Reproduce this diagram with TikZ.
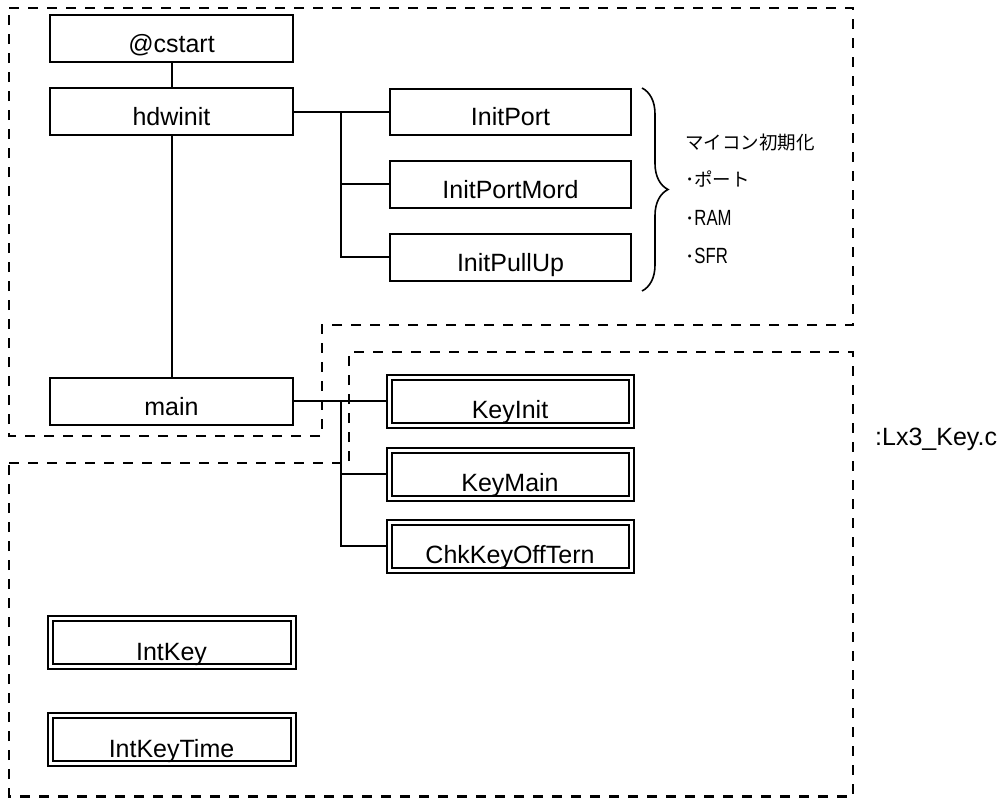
\documentclass[tikz,border=0pt]{standalone}
\usepackage{fontspec}
\setmainfont{Liberation Sans}
\newfontfamily\jpfont{Noto Sans CJK JP}
\newfontfamily\narrowfont[FakeStretch=0.76]{Liberation Sans}
\usetikzlibrary{decorations.pathreplacing}
\begin{document}
\begin{tikzpicture}[x=1pt,y=-1pt,
  fnbox/.style={draw, line width=2pt, minimum width=243pt, minimum height=47pt,
    inner sep=0pt, text height=28pt, text depth=0pt, font=\fontsize{25}{30}\selectfont},
  dblbox/.style={draw, double, double distance=3pt, line width=2pt, minimum width=242pt,
    minimum height=48pt, inner sep=0pt, text height=35pt, text depth=0pt,
    font=\fontsize{25}{30}\selectfont},
  conn/.style={line width=2pt},
  region/.style={line width=2.2pt, dash pattern=on 10pt off 9pt},
  jptext/.style={anchor=base west, inner sep=0pt, font=\jpfont\fontsize{18.5}{22}\selectfont},
]
\useasboundingbox (0,0) rectangle (1004,798);

% function boxes
\node[fnbox] (cstart) at (171.5,38.5) {@cstart};
\node[fnbox] (hdwinit) at (171.5,111.5) {hdwinit};
\node[fnbox] (main) at (171.5,401) {main};
\node[fnbox, minimum width=241pt, minimum height=46pt] (initport) at (510.5,111.5) {InitPort};
\node[fnbox, minimum width=241pt, minimum height=47pt] (initportmord) at (510.5,184) {InitPortMord};
\node[fnbox, minimum width=241pt, minimum height=47pt] (initpullup) at (510.5,257) {InitPullUp};

\node[dblbox] (keyinit) at (510,401) {KeyInit};
\node[dblbox] (keymain) at (510,474) {KeyMain};
\node[dblbox] (chkkey) at (510,546) {ChkKeyOffTern};
\node[dblbox, minimum width=243pt] (intkey) at (171.5,642.5) {IntKey};
\node[dblbox, minimum width=243pt] (intkeytime) at (171.5,739.5) {IntKeyTime};

% connectors
\draw[conn] (cstart) -- (hdwinit);
\draw[conn] (hdwinit) -- (main);
\coordinate (t1) at (341,111.5);
\draw[conn] (hdwinit.east) -- (initport.west);
\draw[conn] (t1) |- (initportmord.west);
\draw[conn] (t1) |- (initpullup.west);
\coordinate (t2) at (341,401);
\draw[conn] (main.east) -- (keyinit.west);
\draw[conn] (t2) |- (keymain.west);
\draw[conn] (t2) |- (chkkey.west);

% dashed regions
\draw[region] (9,8) -- (853,8) -- (853,325) -- (322,325) -- (322,436) -- (9,436) -- cycle;
\draw[region] (9,463) -- (349,463) -- (349,352) -- (853,352) -- (853,796.5) -- (9,796.5) -- cycle;

% brace and notes
\coordinate (bt) at (642,88);
\coordinate (bb) at (642,291);
\draw[line width=1.6pt, decorate, decoration={brace, amplitude=26pt}] (bt) -- (bb);
\node[jptext] (mcu) at (685,149) {マイコン初期化};
\node[jptext] (bport) at (685,186) {･ポート};
\node[jptext] (bram) at (685,225) {･{\narrowfont\fontsize{22}{24}\selectfont RAM}};
\node[jptext] (bsfr) at (685,263) {･{\narrowfont\fontsize{22}{24}\selectfont SFR}};

\node[anchor=base west, inner sep=0pt, font=\fontsize{25}{30}\selectfont] (file) at (875,445) {:Lx3\_Key.c};
\end{tikzpicture}
\end{document}
